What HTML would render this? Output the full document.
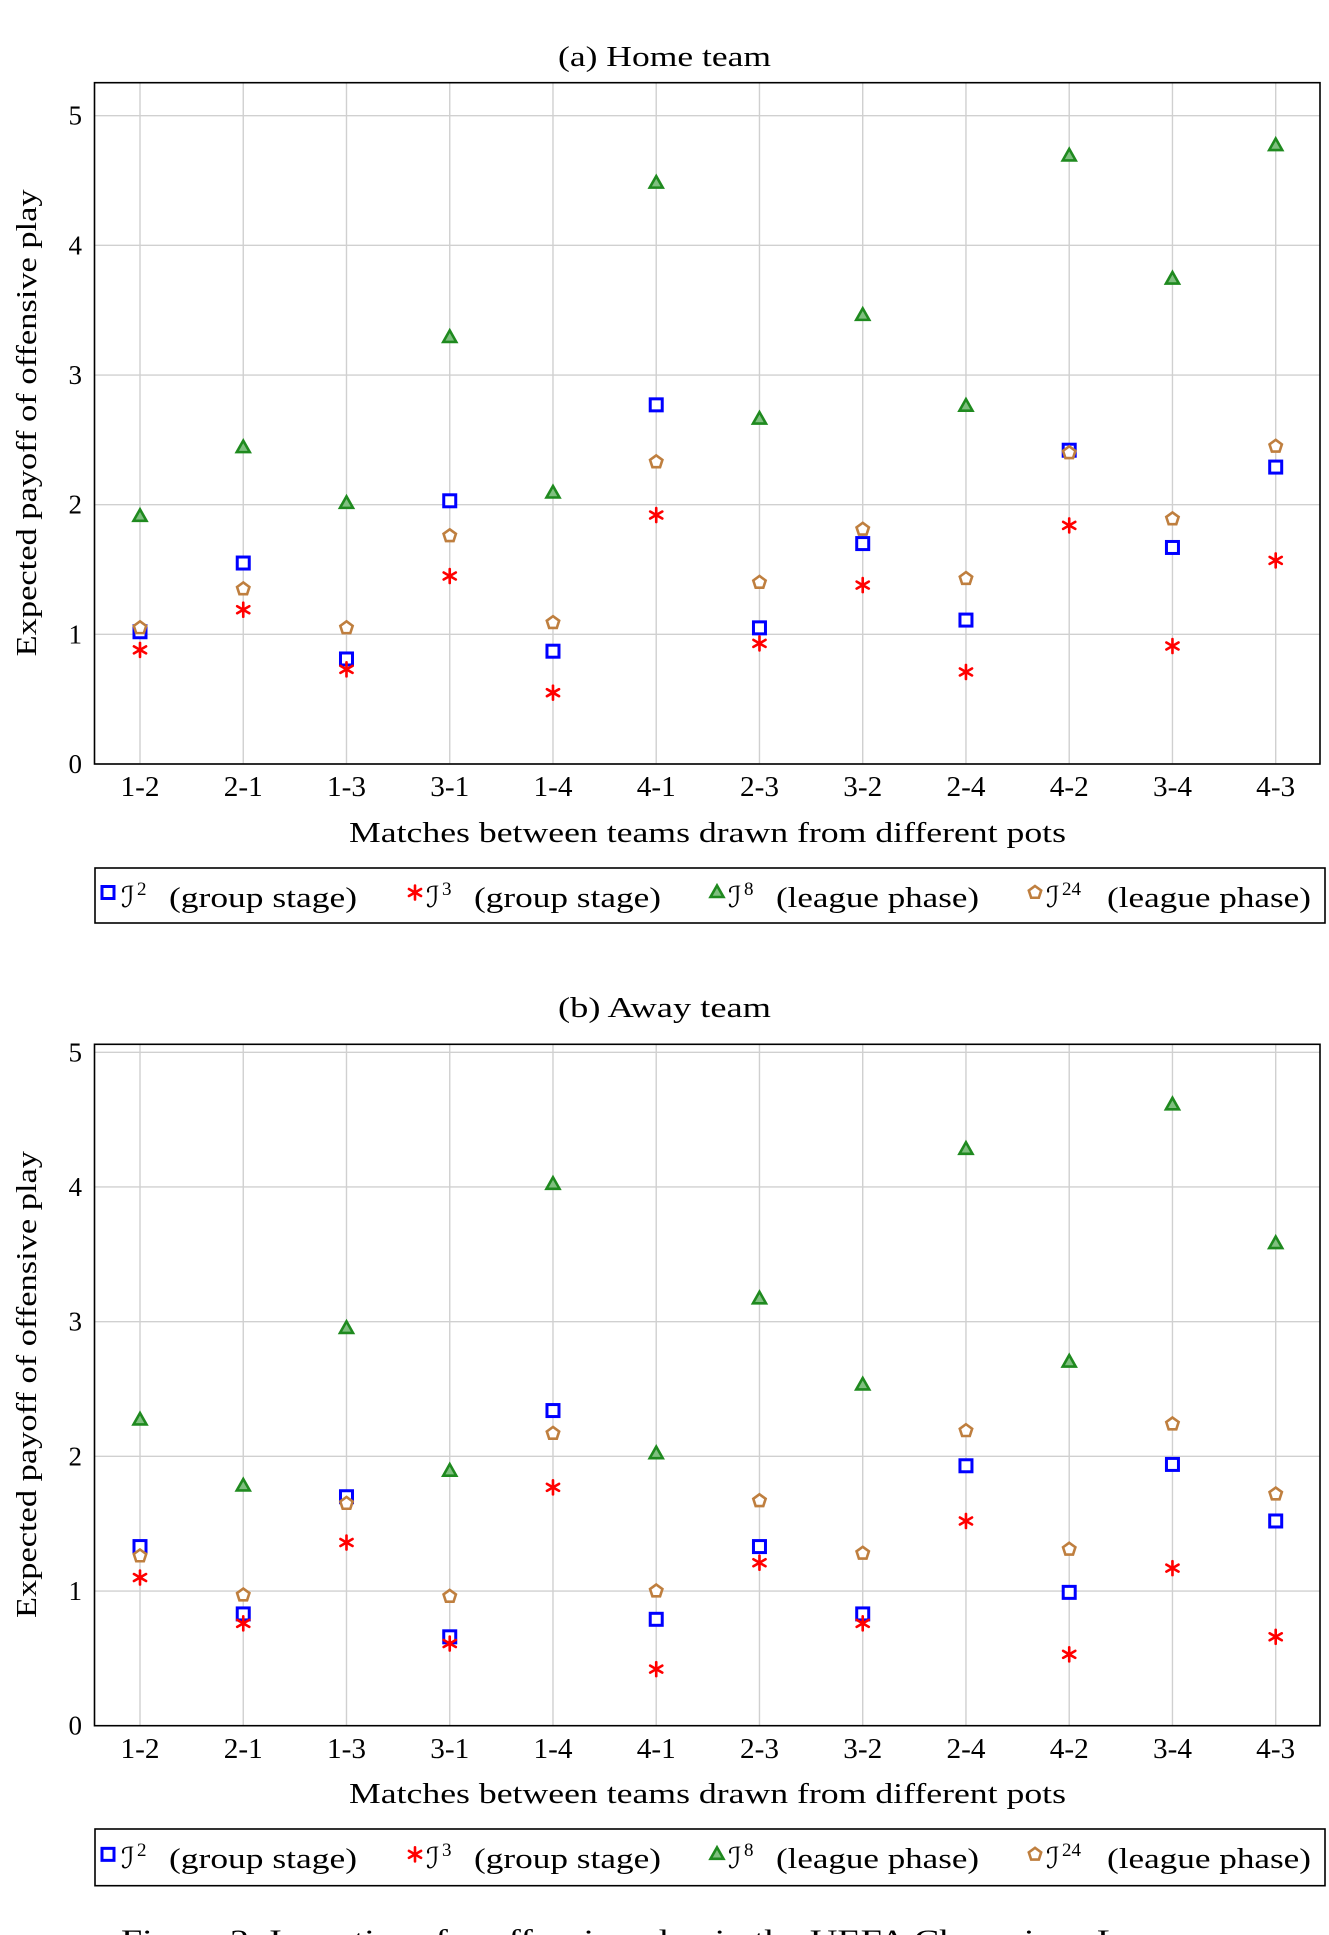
<!DOCTYPE html>
<html><head><meta charset="utf-8"><style>
html,body{margin:0;padding:0;background:#fff;}
svg{display:block;font-family:"Liberation Serif","DejaVu Serif",serif;}
</style></head><body>
<svg id="fig" width="1329" height="1935" viewBox="0 0 1329 1935" xmlns="http://www.w3.org/2000/svg"></svg>
<script>
const categories = ["1-2","2-1","1-3","3-1","1-4","4-1","2-3","3-2","2-4","4-2","3-4","4-3"];
const yTicks = [0,1,2,3,4,5];
const homeI2  = [1.02,1.55,0.81,2.03,0.87,2.77,1.05,1.70,1.11,2.42,1.67,2.29];
const homeI3  = [0.88,1.19,0.73,1.45,0.55,1.92,0.93,1.38,0.71,1.84,0.91,1.57];
const homeI8  = [1.91,2.44,2.01,3.29,2.09,4.48,2.66,3.46,2.76,4.69,3.74,4.77];
const homeI24 = [1.05,1.35,1.05,1.76,1.09,2.33,1.40,1.81,1.43,2.40,1.89,2.45];
const awayI2  = [1.33,0.83,1.70,0.66,2.34,0.79,1.33,0.83,1.93,0.99,1.94,1.52];
const awayI3  = [1.10,0.76,1.36,0.61,1.77,0.42,1.21,0.76,1.52,0.53,1.17,0.66];
const awayI8  = [2.27,1.78,2.95,1.89,4.02,2.02,3.17,2.53,4.28,2.70,4.61,3.58];
const awayI24 = [1.26,0.97,1.65,0.96,2.17,1.00,1.67,1.28,2.19,1.31,2.24,1.72];

const NS="http://www.w3.org/2000/svg";
const svg=document.getElementById('fig');
function el(tag,attrs,parent){const e=document.createElementNS(NS,tag);for(const k in attrs)e.setAttribute(k,attrs[k]);(parent||svg).appendChild(e);return e;}
const BLUE="#0000ff",RED="#ff0000",GREEN="#1f8a1f",BROWN="#bf7f3f";

function marker(g,type,x,y){
  let m;
  if(type==="sq"){m=el('rect',{x:x-6,y:y-6,width:12,height:12,fill:'#fff',stroke:BLUE,'stroke-width':3},g);}
  else if(type==="ast"){
    m=el('g',{stroke:RED,'stroke-width':2.6,'stroke-linecap':'round'},g);
    for(let a=0;a<3;a++){const t=Math.PI/2+a*Math.PI/3;const dx=7*Math.cos(t),dy=7*Math.sin(t);
      el('line',{x1:x-dx,y1:y-dy,x2:x+dx,y2:y+dy},m);}
  } else if(type==="tri"){
    m=el('polygon',{points:`${x},${y-7} ${x-6.5},${y+4.5} ${x+6.5},${y+4.5}`,fill:'#7fbf7f',stroke:GREEN,'stroke-width':2.6},g);
  } else {
    let p=[];for(let i=0;i<5;i++){const t=-Math.PI/2+i*2*Math.PI/5;p.push((x+6.5*Math.cos(t)).toFixed(2)+","+(y+6.5*Math.sin(t)).toFixed(2));}
    m=el('polygon',{points:p.join(' '),fill:'#fff',stroke:BROWN,'stroke-width':2.6},g);
  }
  return m;
}

function panel(id,title,titleY,top,y0,y5,bottom,tickY,xlabY,legTop,legBot,series){
  const left=94.5,right=1320,xFirst=140,xLast=1275.7;
  const xs=i=>xFirst+i*(xLast-xFirst)/(categories.length-1);
  const ys=v=>y0+(y5-y0)*v/5;
  const g=el('g',{});
  
  
  const t=el('text',{x:558,y:titleY,'font-size':29,fill:'#000',textLength:213,lengthAdjust:'spacingAndGlyphs'},g);t.textContent=title;
  
  const grid=el('g',{stroke:'#d0d0d0','stroke-width':1.4},g);
  
  categories.forEach((c,i)=>{el('line',{x1:xs(i),x2:xs(i),y1:top,y2:bottom},grid);
    const tl=el('text',{x:xs(i)-19.5,y:tickY,'font-size':28,fill:'#000',textLength:39,lengthAdjust:'spacingAndGlyphs'},g);tl.textContent=c;
    });
  yTicks.forEach(v=>{el('line',{x1:left,x2:right,y1:ys(v),y2:ys(v)},grid);
    const tl=el('text',{x:82,y:ys(v)+9,'font-size':27,'text-anchor':'end',fill:'#000'},g);tl.textContent=v;
    });
  const fr=el('rect',{x:left,y:top,width:right-left,height:bottom-top,fill:'none',stroke:'#000','stroke-width':1.6},g);
  
  const yl=el('text',{x:-233,y:0,'font-size':29,fill:'#000',textLength:467,lengthAdjust:'spacingAndGlyphs',transform:`translate(36,${(top+bottom)/2}) rotate(-90)`},g);
  yl.textContent="Expected payoff of offensive play";
  
  const xl=el('text',{x:349,y:xlabY,'font-size':29,fill:'#000',textLength:717,lengthAdjust:'spacingAndGlyphs'},g);
  xl.textContent="Matches between teams drawn from different pots";
  
  series.forEach(s=>{
    const sg=el('g',{},g);
    
    s.vals.forEach((v,i)=>{const m=marker(sg,s.type,xs(i),ys(v));
      
      });
  });
  const lg=el('g',{},g);
  
  el('rect',{x:95,y:legTop,width:1230,height:legBot-legTop,fill:'#fff',stroke:'#000','stroke-width':1.6},lg);
  const mx=[108,415,717,1035],tx=[121,426,728,1046],lx=[169,474,776,1107],le=[357,661,979,1311];
  const base=legTop+39,mid=legTop+(legBot-legTop)/2-3;
  series.forEach((s,k)=>{
    const e=el('g',{},lg);
    
    marker(e,s.type,mx[k],mid);
    const a=el('text',{x:tx[k],y:base,'font-size':29,fill:'#000'},e);a.textContent="ℐ";
    const b=el('text',{x:tx[k]+16,y:base-12,'font-size':19,fill:'#000'},e);b.textContent=s.sup;
    const c=el('text',{x:lx[k],y:base,'font-size':29,fill:'#000',textLength:le[k]-lx[k],lengthAdjust:'spacingAndGlyphs'},e);c.textContent=s.label;
  });
}
const mk=(a,b,c,d)=>[
 {key:'i2',type:'sq',vals:a,sup:'2',label:'(group stage)'},
 {key:'i3',type:'ast',vals:b,sup:'3',label:'(group stage)'},
 {key:'i8',type:'tri',vals:c,sup:'8',label:'(league phase)'},
 {key:'i24',type:'pent',vals:d,sup:'24',label:'(league phase)'}];
panel('home','(a) Home team',66,82.7,764,115.7,764,796,842,868,923,mk(homeI2,homeI3,homeI8,homeI24));
panel('away','(b) Away team',1017,1044.3,1725.7,1052.3,1725.7,1758,1803,1829,1885.7,mk(awayI2,awayI3,awayI8,awayI24));
const cap=el('text',{x:121,y:1950,'font-size':30,fill:'#000',textLength:1088,lengthAdjust:'spacingAndGlyphs'});
cap.textContent="Figure 2: Incentives for offensive play in the UEFA Champions League";


</script>
</body></html>
